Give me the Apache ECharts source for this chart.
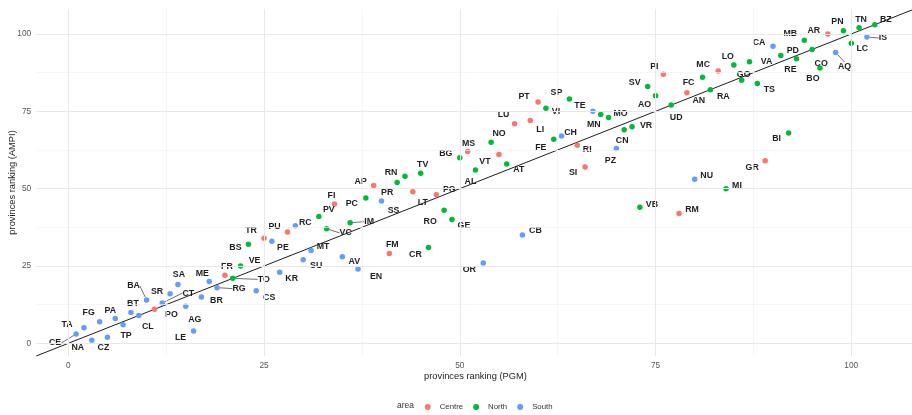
<!DOCTYPE html>
<html>
<head>
<meta charset="utf-8">
<script src="https://cdn.jsdelivr.net/npm/echarts@6/dist/echarts.min.js"></script>
<style>
  html, body { margin: 0; padding: 0; background: #ffffff; }
  #chart { width: 912px; height: 415px; }
</style>
</head>
<body>
<div id="chart"></div>
<script>
// Province codes, ordered by their PGM ranking
const provinces = [
  'CE','TA','NA','FG','CZ','PA','TP','BT','CL','BA',
  'PO','CT','SR','SA','AG','LE','BR','ME','RG','FR',
  'TO','VE','BS','CS','TR','PE','KR','PU','RC','SU',
  'MT','PV','VC','FI','AV','IM','EN','PC','AP','SS',
  'FM','PR','RN','LT','TV','CR','PG','RO','GE','BG',
  'MS','AL','OR','NO','VT','AT','LU','CB','LI','PT',
  'VI','FE','CH','SP','RI','SI','TE','MN','MO','PZ',
  'CN','VR','VB','SV','AO','PI','UD','RM','AN','NU',
  'FC','RA','MC','MI','LO','GO','VA','TS','GR','CA',
  'PD','BI','RE','MB','CO','BO','AR','AQ','PN','LC',
  'TN','IS','BZ'
];

// Ranking by PGM (x)
const rankPGM = [
    1,  2,  3,  4,  5,  6,  7,  8,  9, 10,
   11, 12, 13, 14, 15, 16, 17, 18, 19, 20,
   21, 22, 23, 24, 25, 26, 27, 28, 29, 30,
   31, 32, 33, 34, 35, 36, 37, 38, 39, 40,
   41, 42, 43, 44, 45, 46, 47, 48, 49, 50,
   51, 52, 53, 54, 55, 56, 57, 58, 59, 60,
   61, 62, 63, 64, 65, 66, 67, 68, 69, 70,
   71, 72, 73, 74, 75, 76, 77, 78, 79, 80,
   81, 82, 83, 84, 85, 86, 87, 88, 89, 90,
   91, 92, 93, 94, 95, 96, 97, 98, 99,100,
  101,102,103
];

// Ranking by AMPI (y)
const rankAMPI = [
    3,  5,  1,  7,  2,  8,  6, 10,  9, 14,
   11, 13, 16, 19, 12,  4, 15, 20, 18, 22,
   21, 25, 32, 17, 34, 33, 23, 36, 38, 27,
   30, 41, 37, 45, 28, 39, 24, 47, 51, 46,
   29, 52, 54, 49, 55, 31, 48, 43, 40, 60,
   62, 56, 26, 65, 61, 58, 71, 35, 72, 78,
   76, 66, 67, 79, 64, 57, 75, 74, 73, 63,
   69, 70, 44, 83, 80, 87, 77, 42, 81, 53,
   86, 82, 88, 50, 90, 85, 91, 84, 59, 96,
   93, 68, 92, 98, 95, 89,100, 94,101, 97,
  102, 99,103
];

// Macro area of each province
const area = [
  'South','South','South','South','South','South','South','South','South','South',
  'Centre','South','South','South','South','South','South','South','South','Centre',
  'North','North','North','South','Centre','South','South','Centre','South','South',
  'South','North','North','Centre','South','North','South','North','Centre','South',
  'Centre','North','North','Centre','North','North','Centre','North','North','North',
  'Centre','North','South','North','Centre','North','Centre','South','Centre','Centre',
  'North','North','South','North','Centre','Centre','South','North','North','South',
  'North','North','North','North','North','Centre','North','Centre','Centre','South',
  'North','North','Centre','North','North','North','North','North','Centre','South',
  'North','North','North','North','North','North','Centre','South','North','North',
  'North','South','North'
];

const areaNames = ['Centre', 'North', 'South'];
const majorTicks = [0, 25, 50, 75, 100];
const minorTicks = [12.5, 37.5, 62.5, 87.5];
const axisRange = [-4.1, 108.1];

// ---- styling / layout ----
const areaColors = { Centre: '#F8766D', North: '#00BA38', South: '#619CFF' };
const FONT = '"Liberation Sans", Arial, sans-serif';

// Repelled label placement: offset (px) of each label centre from its point
const labelShift = {
  CE:[-21,9], TA:[-17,-3], NA:[-14,7], FG:[-11,-9], CZ:[-4,10], PA:[-5,-8], TP:[3,11], BT:[2,-9],
  CL:[9,11], BA:[-13,-14], PO:[17,5], CT:[26,-10], SR:[-13,-2], SA:[1,-10], AG:[9,13], LE:[-13,7],
  BR:[15,4], ME:[-7,-8], RG:[22,1], FR:[2,-9], TO:[31,1], VE:[14,-5], BS:[-13,3], CS:[13,7],
  TR:[-13,-8], PE:[11,6], KR:[12,6], PU:[-13,-5], RC:[10,-3], SU:[13,6], MT:[12,-4], PV:[10,-7],
  VC:[19,4], FI:[-3,-9], AV:[12,5], IM:[19,-1], EN:[18,7], PC:[-14,6], AP:[-13,-4], SS:[12,10],
  FM:[3,-9], PR:[-10,10], RN:[-14,-4], LT:[10,11], TV:[2,-9], CR:[-13,7], PG:[13,-5], RO:[-14,11],
  GE:[12,6], BG:[-14,-4], MS:[1,-8], AL:[-5,11], OR:[-14,7], NO:[8,-9], VT:[-14,7], AT:[12,6],
  LU:[-11,-9], CB:[13,-4], LI:[10,9], PT:[-14,-5], VI:[10,3], FE:[-13,8], CH:[9,-3], SP:[-13,-6],
  RI:[10,4], SI:[-12,6], TE:[-13,-6], MN:[-7,10], MO:[12,-4], PZ:[-6,12], CN:[-2,11], VR:[14,-1],
  VB:[12,-3], SV:[-13,-4], AO:[-11,9], PI:[-9,-8], UD:[5,12], RM:[13,-4], AN:[12,8], NU:[12,-4],
  FC:[-14,5], RA:[13,7], MC:[-15,-7], MI:[11,-3], LO:[-6,-8], GO:[2,-6], VA:[17,0], TS:[12,6],
  GR:[-13,7], CA:[-14,-4], PD:[12,-5], BI:[-12,6], RE:[-6,11], MB:[-14,-7], CO:[9,14], BO:[-7,11],
  AR:[-14,-3], AQ:[9,14], PN:[-6,-9], LC:[11,5], TN:[2,-8], IS:[16,1], BZ:[11,-5]
};
// labels pushed far enough to get a connecting segment
const leaderLabels = ['CE','BA','CT','RG','TO','VC','IM','AQ','IS'];

const chart = echarts.init(document.getElementById('chart'), null, { renderer: 'canvas' });

// one scatter series per macro area
const pointSeries = areaNames.map(function (name) {
  const items = [];
  provinces.forEach(function (code, i) {
    if (area[i] !== name) return;
    items.push({
      name: code,
      value: [rankPGM[i], rankAMPI[i]],
      labelLine: { show: leaderLabels.indexOf(code) >= 0 }
    });
  });
  return {
    type: 'scatter',
    name: name,
    z: 3,
    symbol: 'circle',
    symbolSize: 5.5,
    itemStyle: { color: areaColors[name], opacity: 1 },
    label: {
      show: true,
      position: 'right',
      distance: 0,
      formatter: '{b}',
      fontFamily: FONT,
      fontWeight: 'bold',
      fontSize: 8.8,
      color: '#1e1e1e',
      textBorderWidth: 0,
      textBorderColor: 'transparent',
      textShadowBlur: 0
    },
    labelLine: { show: false, lineStyle: { color: '#333333', width: 0.7 } },
    labelLayout: function (p) {
      const s = labelShift[items[p.dataIndex].name] || [0, 0];
      return {
        x: p.rect.x + p.rect.width / 2 + s[0],
        y: p.rect.y + p.rect.height / 2 + s[1],
        align: 'center',
        verticalAlign: 'middle'
      };
    },
    emphasis: { disabled: true },
    data: items
  };
});

const tickLabelStyle = { fontFamily: FONT, fontSize: 8.3, color: '#555555' };

// panel grid and tick labels
const gridSeries = {
  type: 'line',
  name: 'grid',
  z: 0,
  silent: true,
  data: [],
  markLine: {
    silent: true,
    symbol: 'none',
    animation: false,
    data: []
      .concat(minorTicks.map(function (v) {
        return { xAxis: v, lineStyle: { color: '#f2f2f2', width: 0.7, type: 'solid' }, label: { show: false } };
      }))
      .concat(minorTicks.map(function (v) {
        return { yAxis: v, lineStyle: { color: '#f2f2f2', width: 0.7, type: 'solid' }, label: { show: false } };
      }))
      .concat(majorTicks.map(function (v) {
        return {
          xAxis: v,
          lineStyle: { color: '#e8e8e8', width: 1, type: 'solid' },
          label: Object.assign({ show: true, position: 'start', distance: 5.5, formatter: String(v) }, tickLabelStyle)
        };
      }))
      .concat(majorTicks.map(function (v) {
        return {
          yAxis: v,
          lineStyle: { color: '#e8e8e8', width: 1, type: 'solid' },
          label: Object.assign({ show: true, position: 'start', distance: 5, formatter: String(v) }, tickLabelStyle)
        };
      }))
  }
};

// identity line y = x across the panel
const identitySeries = {
  type: 'line',
  name: 'identity',
  z: 2,
  silent: true,
  symbol: 'none',
  lineStyle: { color: '#1e1e1e', width: 1 },
  data: [[axisRange[0], axisRange[0]], [axisRange[1], axisRange[1]]]
};

const hiddenAxisParts = {
  axisLine: { show: false },
  axisTick: { show: false },
  axisLabel: { show: false },
  splitLine: { show: false }
};

chart.setOption({
  animation: false,
  backgroundColor: '#ffffff',
  grid: { left: 36.2, right: -2.7, top: 8.9, bottom: 59, containLabel: false, outerBoundsMode: 'none' },
  xAxis: Object.assign({
    type: 'value',
    min: axisRange[0],
    max: axisRange[1],
    name: 'provinces ranking (PGM)',
    nameLocation: 'middle',
    nameGap: 16,
    nameTextStyle: { fontFamily: FONT, fontSize: 9.3, color: '#222222' }
  }, hiddenAxisParts),
  yAxis: Object.assign({
    type: 'value',
    min: axisRange[0],
    max: axisRange[1],
    name: 'provinces ranking (AMPI)',
    nameLocation: 'middle',
    nameGap: 19,
    nameRotate: 90,
    nameTextStyle: { fontFamily: FONT, fontSize: 9.3, color: '#222222' }
  }, hiddenAxisParts),
  legend: {
    data: areaNames,
    left: 424.7,
    top: 403,
    padding: 0,
    orient: 'horizontal',
    icon: 'circle',
    itemWidth: 6,
    itemHeight: 6,
    itemGap: 10,
    selectedMode: false,
    textStyle: { fontFamily: FONT, fontSize: 7.8, color: '#333333', padding: [0, 0, 0, 4] }
  },
  graphic: [{
    type: 'text',
    style: { x: 397, y: 406, text: 'area', fontFamily: FONT, fontSize: 8.5, fill: '#333333', verticalAlign: 'middle' }
  }],
  series: [gridSeries, identitySeries].concat(pointSeries)
});
</script>
</body>
</html>
